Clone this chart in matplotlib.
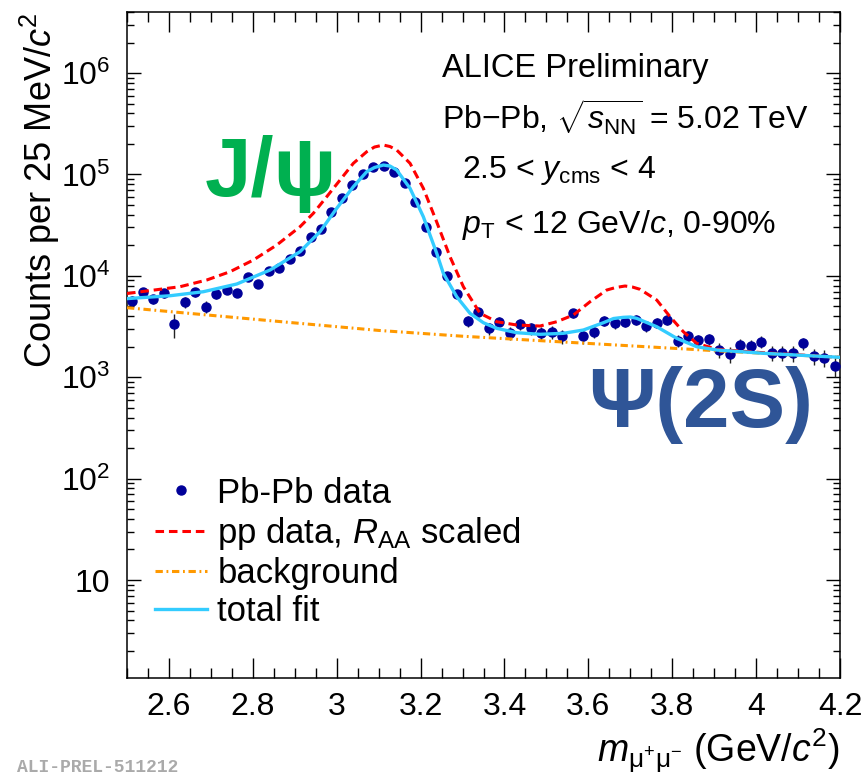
import numpy as np
import matplotlib
matplotlib.use("Agg")
import matplotlib.pyplot as plt
from matplotlib.ticker import FixedLocator, LogLocator, MultipleLocator, NullFormatter
from matplotlib.lines import Line2D

plt.rcParams['font.family'] = ['Liberation Sans', 'DejaVu Sans']
plt.rcParams['mathtext.fontset'] = 'custom'
plt.rcParams['mathtext.rm'] = 'Liberation Sans'
plt.rcParams['mathtext.it'] = 'Liberation Sans:italic'
plt.rcParams['mathtext.bf'] = 'Liberation Sans:bold'

# Pb-Pb data, 25 MeV bins from 2.5 to 4.2 GeV/c2
bin_centers = np.arange(68) * 0.025 + 2.5125
counts = [5680, 6880, 5870, 6720, 3350, 5480, 6880, 4960, 6570, 7240,
          6810, 9800, 8250, 11150, 11850, 14640, 17570, 24300, 28940, 42860,
          58110, 78620, 100200, 117500, 121800, 106300, 81700, 53800, 30500, 17290,
          10020, 6615, 3610, 4426, 3035, 3527, 2748, 3350, 3035, 2710,
          2772, 2548, 4267, 2548, 2810, 3610, 3400, 3527, 3664, 3198,
          3447, 3664, 2291, 2548, 2328, 2365, 1855, 1681, 2078, 2031,
          2240, 1745, 1745, 1721, 2158, 1618, 1557, 1298]
count_err = [700, 700, 650, 700, 900, 650, 650, 650, 650, 650,
             650, 700, 700, 700, 700, 700, 750, 800, 850, 900,
             1000, 1100, 1200, 1300, 1300, 1200, 1100, 1000, 900, 800,
             700, 550, 450, 400, 400, 400, 400, 400, 400, 400,
             400, 400, 400, 400, 400, 400, 400, 400, 400, 400,
             400, 400, 300, 300, 300, 300, 300, 300, 300, 300,
             300, 300, 300, 300, 300, 300, 300, 300]

# pp reference scaled by R_AA
pp_mass = [2.5, 2.6264, 2.69, 2.7456, 2.8011, 2.857, 2.9125, 2.9442, 2.9762, 3.0079,
           3.0396, 3.0715, 3.09, 3.1111, 3.127, 3.143, 3.1748, 3.2065, 3.2384, 3.2701,
           3.3019, 3.3417, 3.3815, 3.4292, 3.4847, 3.5246, 3.5642, 3.604, 3.6438, 3.665,
           3.6874, 3.705, 3.7232, 3.763, 3.7947, 3.8264, 3.8584, 3.9061, 4.0172, 4.2]
pp_counts = [6690, 7810, 9090, 10980, 14310, 20120, 30500, 41340, 60280, 88080,
             128700, 167400, 186300, 195000, 188400, 174000, 128700, 72950, 33930, 15430,
             7810, 4268, 3526, 3272, 3198, 3526, 4106, 5554, 7244, 7667,
             7934, 7754, 7360, 5771, 3950, 2810, 2159, 1884, 1744, 1571]

# background
bkg_mass = [2.5, 2.7, 2.9, 3.1, 3.3, 3.5, 3.7, 3.9, 4.1, 4.2]
bkg_counts = [4847, 4079, 3432, 2894, 2537, 2275, 2040, 1829, 1648, 1571]

# total fit
fit_mass = [2.5, 2.6025, 2.682, 2.7616, 2.841, 2.9125, 2.96, 3.0, 3.0396, 3.0715,
            3.09, 3.1111, 3.127, 3.143, 3.1748, 3.2065, 3.2384, 3.2542, 3.2861, 3.3178,
            3.3496, 3.3815, 3.4292, 3.4847, 3.5403, 3.588, 3.6357, 3.66, 3.6834, 3.70,
            3.7153, 3.763, 3.8107, 3.8584, 3.9061, 4.0172, 4.2]
fit_counts = [5960, 6360, 6970, 8300, 11410, 17290, 27220, 46320, 75610, 106300,
              117000, 123800, 121000, 110500, 72950, 38270, 16670, 10580, 6222, 4268,
              3447, 3035, 2748, 2650, 2710, 2921, 3447, 3793, 3896, 3925,
              3809, 3148, 2419, 1999, 1855, 1721, 1571]

y_ticks = [10, 1e2, 1e3, 1e4, 1e5, 1e6]
y_tick_labels = ['10', '$10^{2}$', '$10^{3}$', '$10^{4}$', '$10^{5}$', '$10^{6}$']
x_ticks = [2.6, 2.8, 3.0, 3.2, 3.4, 3.6, 3.8, 4.0, 4.2]
x_tick_labels = ['2.6', '2.8', '3', '3.2', '3.4', '3.6', '3.8', '4', '4.2']

fig = plt.figure(figsize=(8.67, 7.78), dpi=100)
ax = fig.add_axes([0.1465, 0.1285, 0.8224, 0.8561])

ax.errorbar(bin_centers, counts, yerr=count_err, fmt='none', ecolor='#222222',
            elinewidth=1.0, zorder=2)
ax.plot(bin_centers, counts, 'o', color='#000099', markersize=6.5, zorder=3)
ax.plot(pp_mass, pp_counts, color='#ff0000', lw=2.2, ls=(0, (2.8, 1.6)), zorder=4)
ax.plot(bkg_mass, bkg_counts, color='#ff9900', lw=2.2, ls=(0, (2.4, 1.2, 0.6, 1.2)), zorder=4)
ax.plot(fit_mass, fit_counts, color='#33ccff', lw=2.4, zorder=5)

ax.set_yscale('log')
ax.set_xlim(2.5, 4.2)
ax.set_ylim(1.08, 4e6)

ax.xaxis.set_major_locator(FixedLocator(x_ticks))
ax.set_xticklabels(x_tick_labels)
ax.xaxis.set_minor_locator(MultipleLocator(0.05))
ax.yaxis.set_major_locator(FixedLocator(y_ticks))
ax.set_yticklabels(y_tick_labels)
ax.yaxis.set_minor_locator(LogLocator(base=10, subs=np.arange(2, 10)))
ax.yaxis.set_minor_formatter(NullFormatter())

ax.tick_params(axis='both', which='both', direction='in', top=True, right=True,
               color='black', width=1.0, labelsize=23)
ax.tick_params(axis='x', which='major', length=14.5, pad=10)
ax.tick_params(axis='x', which='minor', length=7.2)
ax.tick_params(axis='y', which='major', length=10, pad=12)
ax.tick_params(axis='y', which='minor', length=5)
for s in ax.spines.values():
    s.set_linewidth(1.1)

ax.set_xlabel(r'$m_{\mathrm{\mu^{+}\mu^{-}}}$ (GeV/$c^{2}$)', fontsize=27, loc='right', labelpad=3)
ax.set_ylabel(r'Counts per 25 MeV/$c^{2}$', fontsize=26, loc='top', labelpad=-1)

# text block
ax.text(0.4418, 0.9024, 'ALICE Preliminary', transform=ax.transAxes, fontsize=23.5, va='baseline')
ax.text(0.4418, 0.8228, r'Pb$-$Pb, $\sqrt{s_{\mathrm{NN}}}$ = 5.02 TeV', transform=ax.transAxes,
        fontsize=23, va='baseline')
ax.text(0.4698, 0.7508, r'2.5 < $y_{\mathrm{cms}}$ < 4', transform=ax.transAxes, fontsize=23, va='baseline')
ax.text(0.4698, 0.6682, r'$p_{\mathrm{T}}$ < 12 GeV/$c$, 0-90%', transform=ax.transAxes,
        fontsize=23, va='baseline')

ax.text(0.1094, 0.724, 'J/ψ', transform=ax.transAxes, fontsize=60, fontweight='bold',
        color='#00b050', va='baseline')
ax.text(0.6466, 0.377, 'Ψ(2S)', transform=ax.transAxes, fontsize=60, fontweight='bold',
        color='#2f5597', va='baseline')

handles = [
    Line2D([], [], color='#000099', marker='o', ls='none', markersize=6.5),
    Line2D([], [], color='#ff0000', lw=2.2, ls=(0, (2.8, 1.6))),
    Line2D([], [], color='#ff9900', lw=2.2, ls=(0, (2.4, 1.2, 0.6, 1.2))),
    Line2D([], [], color='#33ccff', lw=2.4),
]
labels = ['Pb-Pb data', r'pp data, $R_{\mathrm{AA}}$ scaled', 'background', 'total fit']
ax.legend(handles, labels, loc='upper left', bbox_to_anchor=(0.039, 0.3025), frameon=False,
          fontsize=25, handlelength=1.5, handletextpad=0.3, labelspacing=0.15,
          borderpad=0, borderaxespad=0)

fig.text(0.02, 0.003, 'ALI-PREL-511212', fontsize=13, fontweight='bold', color='#aaaaaa',
         family='Liberation Mono', va='bottom')

fig.savefig('out.png', dpi=100)
